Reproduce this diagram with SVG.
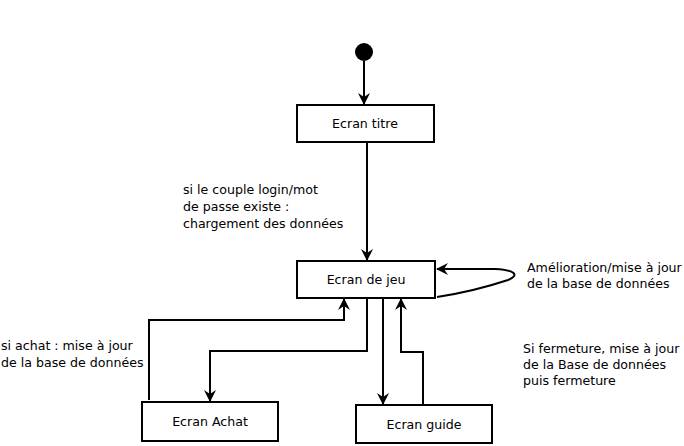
<svg xmlns="http://www.w3.org/2000/svg" width="684" height="446" viewBox="0 0 684 446">
<defs>
<style>
text{font-family:"DejaVu Sans",sans-serif;font-size:12.6px;fill:#000}
.box{fill:#fff;stroke:#000;stroke-width:2}
.c{text-anchor:middle}
.ln{fill:none;stroke:#000;stroke-width:2}
</style>
<marker id="ah" viewBox="0 0 12 12" refX="11" refY="6" markerWidth="12" markerHeight="12" markerUnits="userSpaceOnUse" orient="auto">
<path d="M0,0 L12,6 L0,12 L4,6 Z" fill="#000"/>
</marker>
</defs>
<rect width="684" height="446" fill="#fff"/>
<g id="start"><circle cx="364" cy="52" r="9" fill="#000"/></g>
<g id="connectors">
<path class="ln" d="M364,61 V104" marker-end="url(#ah)"/>
<path class="ln" d="M367,142 V260" marker-end="url(#ah)"/>
<path class="ln" d="M437,297 C470,292 490,286 508,280 C520,275 515,270 495,269 L437,269" marker-end="url(#ah)"/>
<path class="ln" d="M149,400 V320 H344 V299" marker-end="url(#ah)"/>
<path class="ln" d="M367,298 V351 H210 V401" marker-end="url(#ah)"/>
<path class="ln" d="M383,298 V404" marker-end="url(#ah)"/>
<path class="ln" d="M423,405 V352 H401 V299" marker-end="url(#ah)"/>
</g>
<g id="ecran-titre"><rect class="box" x="297" y="105" width="137" height="37"/><text class="c" x="365" y="128">Ecran titre</text></g>
<g id="ecran-jeu"><rect class="box" x="297" y="261" width="138" height="37"/><text class="c" x="366" y="284">Ecran de jeu</text></g>
<g id="ecran-achat"><rect class="box" x="142" y="402" width="136" height="39"/><text class="c" x="210" y="426">Ecran Achat</text></g>
<g id="ecran-guide"><rect class="box" x="356" y="405" width="136" height="38"/><text class="c" x="424" y="429">Ecran guide</text></g>
<g id="labels">
<text x="183" y="194">si le couple login/mot</text>
<text x="183" y="211">de passe existe :</text>
<text x="183" y="228">chargement des données</text>
<text x="527" y="272">Amélioration/mise à jour</text>
<text x="527" y="288">de la base de données</text>
<text x="523" y="353">Si fermeture, mise à jour</text>
<text x="523" y="369">de la Base de données</text>
<text x="523" y="385">puis fermeture</text>
<text x="1" y="350">si achat : mise à jour</text>
<text x="1" y="367">de la base de données</text>
</g>
</svg>
